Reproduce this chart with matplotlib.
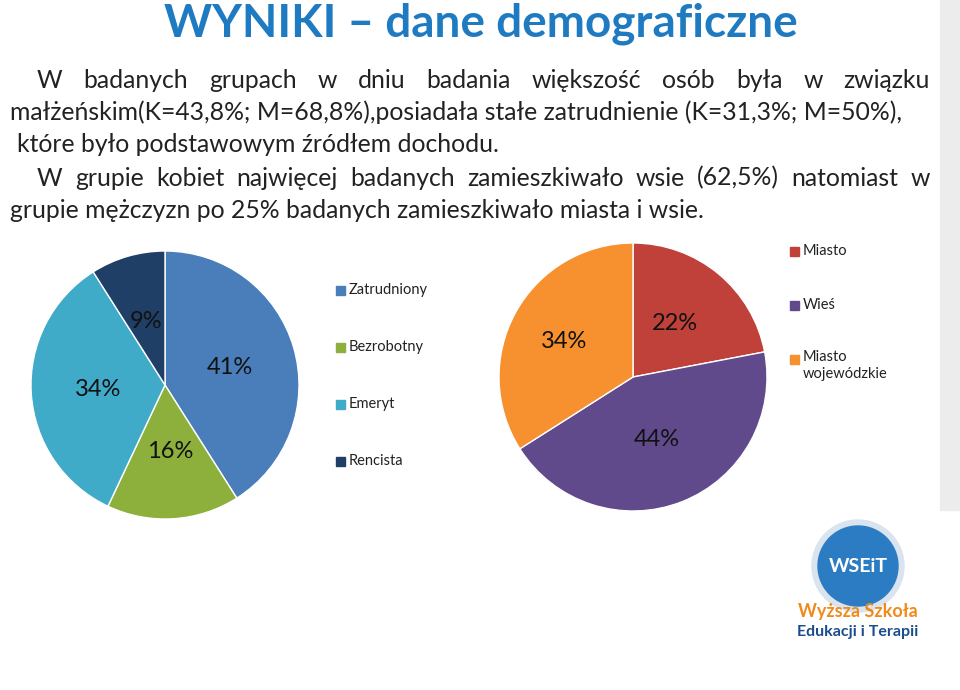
import matplotlib
matplotlib.use("Agg")
import matplotlib.pyplot as plt
from matplotlib.patches import Rectangle, Circle

employ_labels = ["Zatrudniony", "Bezrobotny", "Emeryt", "Rencista"]
employ_values = [41, 16, 34, 9]
place_labels = ["Miasto", "Wieś", "Miasto\nwojewódzkie"]
place_values = [22, 44, 34]

FONT = "Lato"
W, H = 960, 690
fig = plt.figure(figsize=(9.6, 6.9), dpi=100)
ax = fig.add_axes([0, 0, 1, 1])
def lims():
    ax.set_xlim(0, W); ax.set_ylim(0, H); ax.axis("off"); ax.set_aspect("equal")
lims()
Y = lambda y: H - y

ax.add_patch(Rectangle((940, Y(510)), 20, 510, color="#ececec", zorder=0))
ax.text(481, Y(24), "WYNIKI – dane demograficzne", ha="center", va="center",
        fontsize=33, fontweight="bold", color="#1f7bc1", family=FONT)

c1 = ["#4a7ebb", "#8db03c", "#40aac9", "#1f3f66"]
ax.pie(employ_values, colors=c1, startangle=90, counterclock=False, center=(165, Y(385)),
       radius=134, wedgeprops=dict(edgecolor="white", linewidth=1))
c2 = ["#c0403a", "#604a8c", "#f7902e"]
ax.pie(place_values, colors=c2, startangle=90, counterclock=False, center=(633, Y(377)),
       radius=134, wedgeprops=dict(edgecolor="white", linewidth=1))
lims()

fig.canvas.draw()
r = fig.canvas.get_renderer()
FS = 17.8
def justified(words, x0, x1, y, fs=FS):
    ts = [ax.text(0, Y(y), w, fontsize=fs, family=FONT, va="center", color="#222222") for w in words]
    ws = [t.get_window_extent(r).width for t in ts]
    gap = (x1 - x0 - sum(ws)) / (len(words) - 1)
    x = x0
    for t, w in zip(ts, ws):
        t.set_x(x); x += w + gap

def line(s, x, y, fs=FS):
    ax.text(x, Y(y), s, fontsize=fs, family=FONT, va="center", color="#222222")

justified("W badanych grupach w dniu badania większość osób była w związku".split(), 37, 930, 81)
line("małżeńskim(K=43,8%; M=68,8%),posiadała stałe zatrudnienie (K=31,3%; M=50%),", 10, 112)
line("które było podstawowym źródłem dochodu.", 17, 144)
justified("W grupie kobiet najwięcej badanych zamieszkiwało wsie (62,5%) natomiast w".split(), 37, 930, 178)
line("grupie mężczyzn po 25% badanych zamieszkiwało miasta i wsie.", 10, 210)

for s, (x, y) in zip(["41%", "16%", "34%", "9%"], [(230, 368), (170, 452), (98, 390), (146, 321)]):
    ax.text(x, Y(y), s, fontsize=17, family=FONT, ha="center", va="center", color="#111111")
for s, (x, y) in zip(["22%", "44%", "34%"], [(675, 324), (657, 440), (564, 342)]):
    ax.text(x, Y(y), s, fontsize=17, family=FONT, ha="center", va="center", color="#111111")

def leg(x, ys, labels, cols):
    for yy, l, c in zip(ys, labels, cols):
        ax.add_patch(Rectangle((x, Y(yy) - 4.5), 9, 9, color=c))
        ax.text(x + 13, Y(yy), l, fontsize=10.5, family=FONT, va="center", color="#222222")
leg(336, [290, 347, 404, 461], employ_labels, c1)
ax.add_patch(Rectangle((790, Y(251)-4.5), 9, 9, color=c2[0]))
ax.text(803, Y(251), place_labels[0], fontsize=10.5, family=FONT, va="center", color="#222222")
ax.add_patch(Rectangle((790, Y(305)-4.5), 9, 9, color=c2[1]))
ax.text(803, Y(305), place_labels[1], fontsize=10.5, family=FONT, va="center", color="#222222")
ax.add_patch(Rectangle((790, Y(359)-4.5), 9, 9, color=c2[2]))
ax.text(803, Y(350), place_labels[2], fontsize=10.5, family=FONT, va="top", color="#222222", linespacing=1.3)

# logo
ax.add_patch(Circle((858, Y(566)), 46, color="#d9e4ef", zorder=1))
ax.add_patch(Circle((858, Y(566)), 40, color="#2c7cc4", zorder=2))
ax.text(858, Y(566), "WSEiT", fontsize=14, fontweight="bold", color="white", ha="center", va="center", family=FONT, zorder=3)
ax.text(858, Y(612), "Wyższa Szkoła", fontsize=13, fontweight="bold", color="#f08a1c", ha="center", va="center", family=FONT)
ax.text(858, Y(632), "Edukacji i Terapii", fontsize=11.5, fontweight="bold", color="#1a4d8c", ha="center", va="center", family=FONT)

fig.savefig("out.png", dpi=100)
